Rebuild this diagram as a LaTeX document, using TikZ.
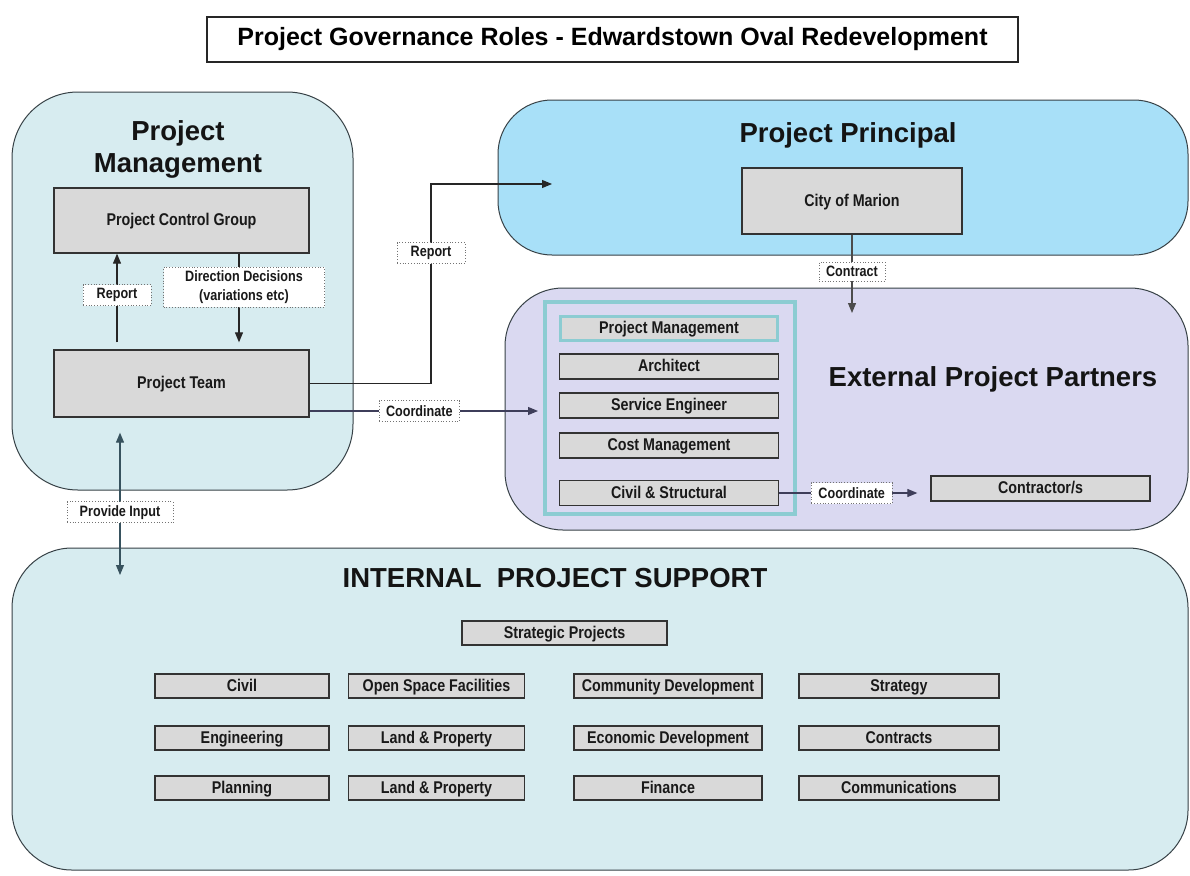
\documentclass[tikz,border=0pt]{standalone}
\usepackage{fontspec}
\setmainfont{Liberation Sans}
\newfontfamily\narrowfont{Liberation Sans}[FakeStretch=0.84]
\usetikzlibrary{arrows.meta,positioning}

\definecolor{mgmtbg}{RGB}{215,236,240}
\definecolor{princbg}{RGB}{168,224,248}
\definecolor{extbg}{RGB}{218,217,241}
\definecolor{unitgrey}{RGB}{217,217,217}
\definecolor{frameteal}{RGB}{140,204,210}
\definecolor{edgegrey}{RGB}{55,65,70}
\definecolor{coordline}{RGB}{62,62,90}
\definecolor{inputline}{RGB}{55,82,94}

\tikzset{
  >={Triangle[length=10pt,width=8pt]},
  region/.style={draw=edgegrey, line width=1pt, inner sep=0pt},
  heading/.style={font=\fontsize{27.5}{32}\selectfont\bfseries, text=black!92, align=center},
  unit/.style={draw=black!80, fill=unitgrey, line width=1.3pt, inner sep=0pt,
    minimum height=24pt, text height=12pt, text depth=2pt,
    font=\narrowfont\fontsize{17}{20}\selectfont\bfseries, text=black!90},
  tag/.style={draw=black!55, dotted, line width=0.8pt, fill=white, inner xsep=7pt,
    inner ysep=0pt, minimum height=21pt, align=center,
    font=\narrowfont\fontsize{15}{19}\selectfont\bfseries, text=black!90},
  link/.style={line width=1.1pt, draw=black!85, ->},
}

\begin{document}
\begin{tikzpicture}[x=1pt,y=-1pt]
\useasboundingbox[fill=white] (0,0) rectangle (1190,875);

\node[draw=black!85, line width=1.2pt, minimum width=811pt, minimum height=45pt,
  font=\fontsize{25}{30}\selectfont\bfseries] (title) at (612.5,39.5)
  {Project Governance Roles - Edwardstown Oval Redevelopment};

% the four areas
\node[region, fill=mgmtbg, rounded corners=66pt, minimum width=341pt, minimum height=398pt] (mgmt) at (182.5,291) {};
\node[region, fill=princbg, rounded corners=54pt, minimum width=690pt, minimum height=155pt] (princ) at (843,177.5) {};
\node[region, fill=extbg, rounded corners=58pt, minimum width=683pt, minimum height=242pt] (ext) at (846.5,409) {};
\node[region, fill=mgmtbg, rounded corners=60pt, minimum width=1176pt, minimum height=322pt] (ips) at (600,709) {};

\node[heading] (mgmthead) at (178,149) {Project\\Management};
\node[heading] (princhead) at (848,135) {Project Principal};
\node[heading] (exthead) at (993,379) {External Project Partners};
\node[heading] (ipshead) at (555,578) {INTERNAL\ \ PROJECT SUPPORT};

% project management
\node[unit, minimum width=255pt, minimum height=65pt] (pcg) at (181.5,220.5) {Project Control Group};
\node[unit, minimum width=255pt, minimum height=67pt] (team) at (181.5,383.5) {Project Team};

% principal
\node[unit, minimum width=220pt, minimum height=66pt] (city) at (852,201) {City of Marion};

% external partners
\node[draw=frameteal, line width=4pt, minimum width=250pt, minimum height=212pt] (frame) at (670,408) {};
\node[unit, draw=frameteal, line width=3pt, minimum width=217pt] (extpm) at (669,328) {Project Management};
\node[unit, minimum width=219pt, minimum height=25pt] (arch) at (669,366.5) {Architect};
\node[unit, minimum width=219pt, minimum height=25pt] (serv) at (669,405.5) {Service Engineer};
\node[unit, minimum width=219pt, minimum height=25pt] (cost) at (669,445.5) {Cost Management};
\node[unit, minimum width=219pt, minimum height=25pt] (civst) at (669,493) {Civil \& Structural};
\node[unit, minimum width=219pt, minimum height=25pt] (contr) at (1040.5,488.5) {Contractor/s};

% internal support
\node[unit, minimum width=205pt] (strat) at (564.5,633) {Strategic Projects};
\node[unit, minimum width=174pt] (civil) at (242,686) {Civil};
\node[unit, minimum width=176pt] (open) at (436.5,686) {Open Space Facilities};
\node[unit, minimum width=188pt] (comm) at (668,686) {Community Development};
\node[unit, minimum width=200pt] (strg) at (899,686) {Strategy};
\node[unit, minimum width=174pt] (eng) at (242,738) {Engineering};
\node[unit, minimum width=176pt] (land) at (436.5,738) {Land \& Property};
\node[unit, minimum width=188pt] (econ) at (668,738) {Economic Development};
\node[unit, minimum width=200pt] (contracts) at (899,738) {Contracts};
\node[unit, minimum width=174pt] (plan) at (242,788) {Planning};
\node[unit, minimum width=176pt] (landb) at (436.5,788) {Land \& Property};
\node[unit, minimum width=188pt] (fin) at (668,788) {Finance};
\node[unit, minimum width=200pt] (comms) at (899,788) {Communications};

\coordinate (princin) at (552,184);
\coordinate (extin) at (852,313);
\coordinate (ipsin) at (120,575);

% connectors
\draw[link] ([xshift=-64.5pt,yshift=7pt]team.north) -- node[tag, pos=0.53, minimum width=68pt]{Report} ([xshift=-64.5pt]pcg.south);
\draw[link] ([xshift=57.5pt]pcg.south) -- node[tag, pos=0.38, xshift=5pt, minimum width=161pt, minimum height=40pt]{Direction Decisions\\(variations etc)} ([xshift=57.5pt,yshift=7pt]team.north);
\draw[link] (team.east) -| (431,253) node[tag, minimum width=68pt]{Report} |- (princin);
\draw[link, draw=coordline, shorten >=5pt] ([yshift=-27.5pt]team.east) coordinate (tc) -- node[tag, pos=0.47]{Coordinate} (tc -| frame.west);
\draw[link, draw=black!70] (city.south) -- node[tag, pos=0.47, minimum height=19pt]{Contract} (extin);
\draw[link, draw=coordline, shorten >=13pt] (civst.east) -- node[tag, pos=0.48]{Coordinate} (civst.east -| contr.west);
\draw[link, draw=inputline, <->] ([xshift=-61.5pt,yshift=-15pt]team.south) -- node[tag, pos=0.56, minimum width=106pt]{Provide Input} (ipsin);

\end{tikzpicture}
\end{document}
